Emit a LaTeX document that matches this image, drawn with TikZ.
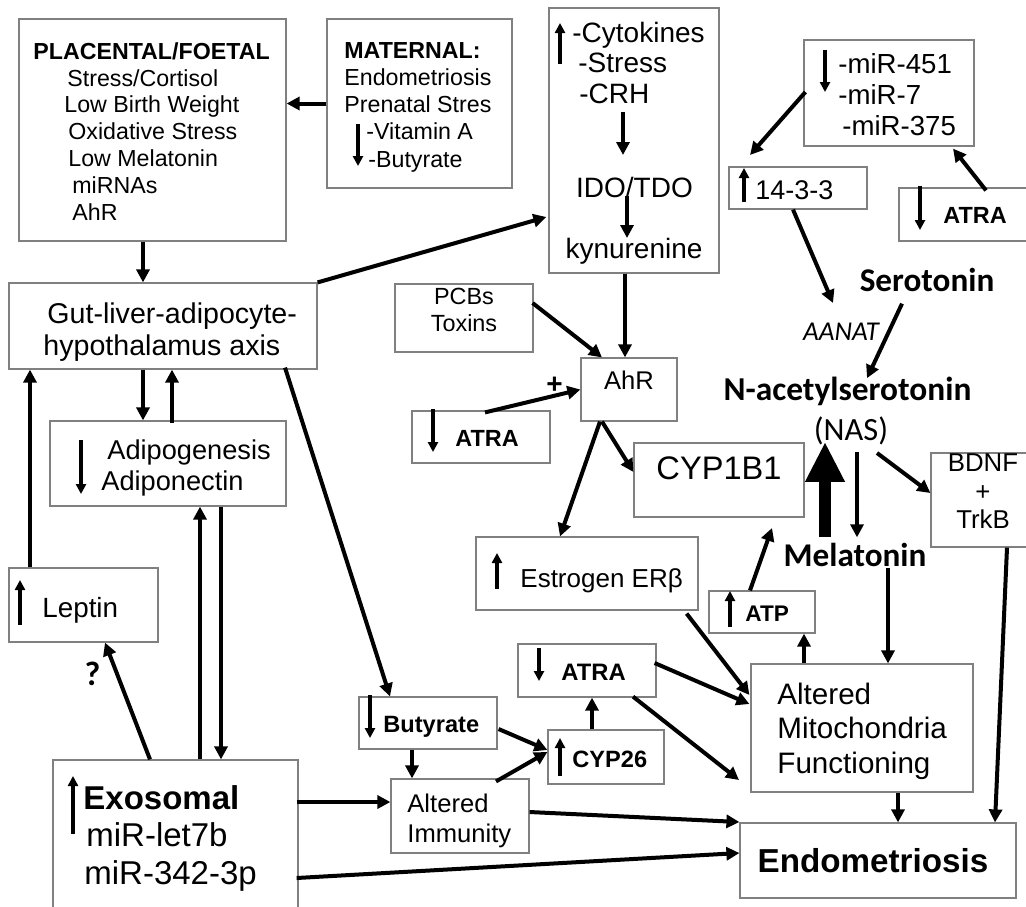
\documentclass[tikz,border=0pt]{standalone}
\usepackage{fontspec}
\setmainfont{Liberation Sans}
\newfontfamily\calib{Carlito}
\usetikzlibrary{arrows.meta}
\usetikzlibrary{calc}
\usetikzlibrary{fit}
\newcommand\fsz[2]{\fontsize{#1}{#2}\selectfont}

\tikzset{
  box/.style={draw=black!50, line width=0.6pt, inner sep=0pt},
  arr/.style={-{Triangle[length=6.5pt,width=6.5pt]}, line width=2pt},
  sym/.style={-{Triangle[length=5pt,width=5pt]}, line width=1.8pt},
  big/.style={-{Triangle[length=20pt,width=18.5pt]}, line width=6.3pt},
  txt/.style={anchor=base west, inner sep=0pt, align=left},
  lbl/.style={anchor=base, inner sep=0pt},
}

\begin{document}
\begin{tikzpicture}[x=0.5pt, y=-0.5pt]

	\clip (0,0) rectangle (1026,906);
	\fill[white] (0,0) rectangle (1026,906);

	%Boxes
	\node[box, fit={(19,19) (286,241)}] (plac) {};
	\node[box, fit={(327,19) (512,188)}] (mat) {};
	\node[box, fit={(549,8) (719,273)}] (cyto) {};
	\node[box, fit={(804,40) (974,146)}] (mir) {};
	\node[box, fit={(729,167) (867,209)}] (p1433) {};
	\node[box, fit={(899,188) (1035,241)}] (atraTR) {};
	\node[box, fit={(9,283) (317,369)}] (gut) {};
	\node[box, fit={(395,284) (533,352)}, align=center, font=\fsz{11.7}{13.5}] (pcb) {PCBs\\Toxins};
	\node[box, fit={(581,358) (677,421)}, font=\fsz{12.8}{14}] (ahr) {AhR};
	\node[box, fit={(412,411) (550,463)}] (atraL) {};
	\node[box, fit={(50,421) (286,506)}] (adipo) {};
	\node[box, fit={(634,443) (804,517)}, font=\fsz{16.3}{18}] (cyp1b1) {CYP1B1};
	\node[box, fit={(931,453) (1035,547)}, align=center, font=\fsz{12.9}{14.25}] (bdnf) {BDNF\\+\\TrkB};
	\node[box, fit={(476,537) (698,610)}] (estro) {};
	\node[box, fit={(9,568) (158,642)}] (leptin) {};
	\node[box, fit={(709,591) (815,633)}] (atp) {};
	\node[box, fit={(518,644) (656,697)}] (atraM) {};
	\node[box, fit={(751,664) (973,792)}] (mito) {};
	\node[box, fit={(359,697) (497,749)}] (buty) {};
	\node[box, fit={(548,730) (664,784)}] (cyp26) {};
	\node[box, fit={(391,779) (529,853)}] (immun) {};
	\node[box, fit={(53,760) (298,930)}] (exo) {};
	\node[box, fit={(740,823) (1016,898)}] (endo) {};

	%Texts (multi-line ones sit on their last baseline)
	\node[txt, font=\fsz{11.6}{13.4}] (plactxt) at (33,220) {\textbf{PLACENTAL/FOETAL}\\\hspace*{17pt}Stress/Cortisol\\\hspace*{15.5pt}Low Birth Weight\\\hspace*{17.5pt}Oxidative Stress\\\hspace*{17.5pt}Low Melatonin\\\hspace*{19.5pt}miRNAs\\\hspace*{19.5pt}AhR};
	\node[txt, font=\fsz{11.6}{13.6}] (mattxt) at (344,167) {\textbf{MATERNAL:}\\Endometriosis\\Prenatal Stres\\\hspace*{11pt}-Vitamin A\\\hspace*{12pt}-Butyrate};
	\node[txt, font=\fsz{14}{15.25}] (cytotxt) at (572,103) {-Cytokines\\\hspace*{3pt}-Stress\\\hspace*{3.5pt}-CRH};
	\node[lbl, font=\fsz{14}{15}] (ido) at (634.5,197) {IDO/TDO};
	\node[lbl, font=\fsz{14}{15}] (kyn) at (634,258) {kynurenine};
	\node[txt, font=\fsz{13.8}{15.5}] (mirtxt) at (838,135) {-miR-451\\-miR-7\\\hspace*{2pt}-miR-375};
	\node[txt, font=\fsz{13.5}{15}] (txt1433) at (755,199) {14-3-3};
	\node[txt, font=\fsz{11.7}{13}\bfseries] (atraTRtxt) at (943,223) {ATRA};
	\node[txt, font=\fsz{14.3}{16}] (guttxt) at (43,355) {\hspace*{2pt}Gut-liver-adipocyte-\\hypothalamus axis};
	\node[txt, font=\fsz{11.7}{13}\bfseries] (atraLtxt) at (455,446) {ATRA};
	\node[txt, font=\fsz{13.6}{15.5}] (adipotxt) at (101,490) {\hspace*{3pt}Adipogenesis\\Adiponectin};
	\node[txt, font=\fsz{13}{14}] (estrotxt) at (520,587) {Estrogen ERβ};
	\node[txt, font=\fsz{13.9}{15}] (leptintxt) at (42,617) {Leptin};
	\node[txt, font=\fsz{11.3}{13}\bfseries] (atptxt) at (745,621) {ATP};
	\node[txt, font=\fsz{11.9}{13}\bfseries] (atraMtxt) at (561,680) {ATRA};
	\node[txt, font=\fsz{14.8}{17.25}] (mitotxt) at (777,773) {Altered\\Mitochondria\\Functioning};
	\node[txt, font=\fsz{11.8}{13}\bfseries] (butytxt) at (383,732) {Butyrate};
	\node[txt, font=\fsz{11.8}{13}\bfseries] (cyp26txt) at (572,767) {CYP26};
	\node[txt, font=\fsz{12.8}{15}] (immuntxt) at (407,842) {Altered\\Immunity};
	\node[txt, font=\fsz{16.5}{18.75}] (exotxt) at (83,884) {\textbf{Exosomal}\\\hspace*{1.5pt}miR-let7b\\\hspace*{0.5pt}miR-342-3p};
	\node[lbl, font=\fsz{16.6}{18}\bfseries] (endotxt) at (873,872) {Endometriosis};
	\node[lbl, font=\calib\fsz{16.6}{18}\bfseries] (sero) at (927,291) {Serotonin};
	\node[lbl, font=\calib\fsz{13.6}{15}\itshape] (aanat) at (841,340) {AANAT};
	\node[lbl, font=\calib\fsz{16.7}{18}\bfseries] (nas) at (847.5,400) {N-acetylserotonin};
	\node[lbl, font=\calib\fsz{16.2}{18}] (nasab) at (851,440) {(NAS)};
	\node[lbl, font=\calib\fsz{16.6}{18}\bfseries] (mel) at (855,566) {Melatonin};

	%Free ends
	\coordinate (m14) at (750,155);
	\coordinate (aanattop) at (833,303);
	\coordinate (cypbot) at (772,528);
	\coordinate (mitoleft) at (739,780);

	%Up and down marks
	\foreach \x/\ya/\yb in {358/124/166, 560/64/23, 825/50/92, 744/202/168, 920/186/230, 433/409/452, 81/440/494, 497/589/553, 20/625/580, 730/627/591, 539/648/681, 370/695/738, 560/776/738, 73/834/776}
		\draw[sym] (\x,\ya) -- (\x,\yb);

	%Arrows
	\draw[arr] ($(ido.base)+(-11.5,-85)$) -- ($(ido.base)+(-11.5,-42)$);
	\draw[arr] ($(ido.base)+(-7.5,-1)$) -- ($(kyn.base)+(-7,-20)$);
	\draw[arr] (mat.west) -- (plac.east |- mat.west);
	\draw[arr] ($(plac.south)+(-9.5,0)$) -- ($(gut.north)+(-20,0)$);
	\draw[arr] (gut.north east) -- ($(cyto.west)+(-2,76.5)$);
	\draw[arr] ($(mir.west)+(2,-1)$) -- (m14);
	\draw[arr] ($(atraTR.north)+(19,3)$) -- ($(mir.south)+(64,2)$);
	\draw[arr] ($(p1433.south)+(-5,0)$) -- (aanattop);
	\draw[arr] ($(sero.south)+(-25,12)$) -- ($(nas.north)+(19.5,2)$);
	\draw[arr] ($(cyto.south)+(-9,0)$) -- ($(ahr.north)+(-4,0)$);
	\draw[arr] ($(pcb.east)+(-1,-15)$) -- ($(ahr.north)+(-27,0)$);
	\draw[arr] ($(atraL.north)+(4,2)$) -- node[pos=0.73, above, inner sep=0pt, font=\fsz{14}{14}\bfseries] (plus) {+} (ahr.west);
	\draw[arr] ($(ahr.south)+(-27,0)$) -- ($(cyp1b1.west)+(0,-8)$);
	\draw[arr] ($(ahr.south)+(-29,0)$) -- ($(estro.north)+(-27,0)$);
	\draw[arr] ($(nasab.base)+(26,13)$) -- ($(bdnf.west)+(0,-7)$);
	\draw[big] ($(mel.north)+(-30,-5)$) -- ($(nasab.north)+(-26,26)$);
	\draw[arr] ($(nasab.base)+(6,12)$) -- ($(mel.north)+(2,-5)$);
	\draw[arr] ($(mel.base)+(33,2)$) -- ($(mito.north)+(26,0)$);
	\draw[arr] ($(bdnf.south)+(24,0)$) -- ($(endo.north)+(117,0)$);
	\draw[arr] ($(mito.south)+(36,0)$) -- ($(endo.north)+(20,0)$);
	\draw[arr] ($(mito.north)+(-58,0)$) -- ($(atp.south)+(42,0)$);
	\draw[arr] ($(atp.north)+(-12,0)$) -- (cypbot);
	\draw[arr] ($(estro.south east)+(-12,3)$) -- ($(mito.west)+(-1,-33)$);
	\draw[arr] ($(atraM.east)+(-2,-7.5)$) -- ($(mito.west)+(-1,-24)$);
	\draw[arr] ($(atraM.south)+(46,-1)$) -- (mitoleft);
	\draw[arr] ($(buty.east)+(1,6)$) -- ($(cyp26.west)+(0,-7)$);
	\draw[arr] ($(immun.north)+(36,3)$) -- ($(cyp26.west)+(0,-5)$);
	\draw[arr] ($(cyp26.north)+(-14,0)$) -- ($(atraM.south)+(5,0)$);
	\draw[arr] ($(buty.south)+(-16,0)$) -- ($(immun.north)+(-48,0)$);
	\draw[arr] ($(immun.east)+(0,-4)$) -- ($(endo.west)+(0,-38.5)$);
	\draw[arr] ($(exo.east)+(-2,33)$) -- ($(endo.west)+(0,-7.5)$);
	\draw[arr] ($(exo.east)+(-2,-43)$) -- ($(immun.west)+(0,-14)$);
	\draw[arr] ($(gut.south)+(122,-2)$) -- ($(buty.north)+(-38,0)$);
	\draw[arr] ($(gut.south)+(-20,0)$) -- ($(adipo.north)+(-25,0)$);
	\draw[arr] ($(adipo.north)+(4,3)$) -- ($(gut.south)+(9,0)$);
	\draw[arr] ($(leptin.north)+(-53.5,0)$) -- ($(gut.south)+(-133,0)$);
	\draw[arr] ($(exo.north)+(24.5,0)$) -- ($(adipo.south)+(32,0)$);
	\draw[arr] ($(adipo.south)+(53,0)$) -- ($(exo.north)+(45.5,0)$);
	\draw[arr] ($(exo.north)+(-25.5,0)$) -- node[pos=0.73, left=4pt, font=\calib\fsz{17}{18}\bfseries] (qmark) {?} ($(leptin.south)+(21.5,0)$);

\end{tikzpicture}
\end{document}
